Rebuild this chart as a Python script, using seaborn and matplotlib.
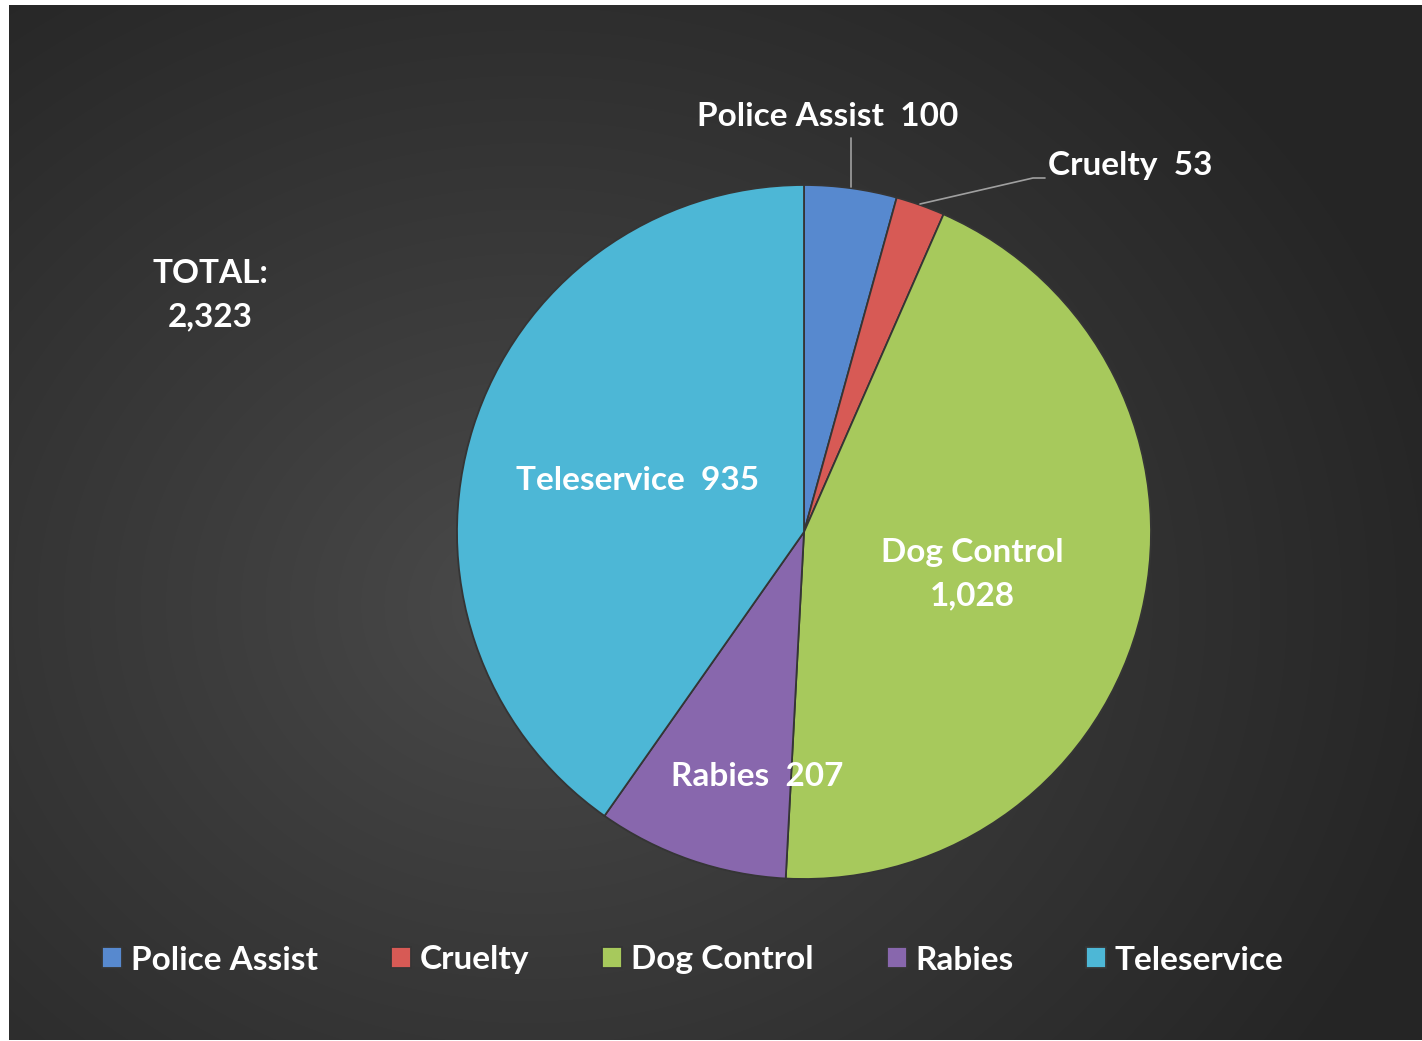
import numpy as np
import matplotlib
matplotlib.use("Agg")
import matplotlib.pyplot as plt
import seaborn as sns

# chart data
categories = ["Police Assist", "Cruelty", "Dog Control", "Rabies", "Teleservice"]
counts = [100, 53, 1028, 207, 935]
colors = ["#5789cf", "#d75a55", "#a7c95c", "#8867ad", "#4db7d6"]
total_label = "TOTAL:\n2,323"

sns.set_theme(style="dark")
plt.rcParams["font.family"] = ["Lato", "DejaVu Sans"]
plt.rcParams["font.weight"] = "bold"

W, H = 1422, 1041
fig = plt.figure(figsize=(W / 100, H / 100), dpi=100, facecolor="white")

# dark radial gradient panel
bg = fig.add_axes([9 / W, 1 / H, (W - 9) / W, (H - 6) / H])
yy, xx = np.mgrid[0:1035, 0:1413]
d = np.sqrt(((xx - 520) / 1.0) ** 2 + ((yy - 600) / 0.85) ** 2)
t = np.clip(d / 950, 0, 1)
c0, c1 = 0x4b / 255, 0x25 / 255
shade = c0 + (c1 - c0) * t ** 0.9
bg.imshow(np.dstack([shade, shade, shade]), aspect="auto", interpolation="bilinear")
bg.axis("off")

# main axes in pixel units (y up)
ax = fig.add_axes([0, 0, 1, 1])
ax.patch.set_alpha(0)
cx, cy, r = 804, H - 532, 347
wedges, _ = ax.pie(counts, colors=colors, startangle=90, counterclock=False,
                   center=(cx, cy), radius=r, frame=True,
                   wedgeprops=dict(edgecolor="#353535", linewidth=1.3))
ax.set_xlim(0, W)
ax.set_ylim(0, H)
ax.axis("off")

fs = 24
txt = dict(color="white", fontsize=fs, fontweight="bold", ha="center", va="center")

def label(i):
    v = counts[i]
    return f"{categories[i]}  {v:,}"

ax.text(638, H - 481, label(4), **txt)
ax.text(972, H - 574, "Dog Control\n1,028", linespacing=1.62, **txt)
ax.text(757, H - 776, label(3), **txt)
ax.text(828, H - 116, label(0), **txt)
ax.text(1130, H - 166, label(1), **txt)
ax.text(210, H - 295, total_label, linespacing=1.62, **txt)

# leader lines
ax.plot([851, 851], [H - 138, H - 187], color="#a0a0a0", lw=1.2)
ax.plot([920, 1033, 1045], [H - 204, H - 178, H - 178], color="#a0a0a0", lw=1.2)

leg = fig.legend(wedges, categories, loc="center", ncol=5,
                 bbox_to_anchor=(693 / W, 1 - 960 / H), frameon=False,
                 fontsize=fs, handlelength=0.6, handleheight=0.6,
                 handletextpad=0.25, columnspacing=2.2)
for t_ in leg.get_texts():
    t_.set_color("white")
    t_.set_fontweight("bold")

fig.savefig("out.png", dpi=100, facecolor="white")
